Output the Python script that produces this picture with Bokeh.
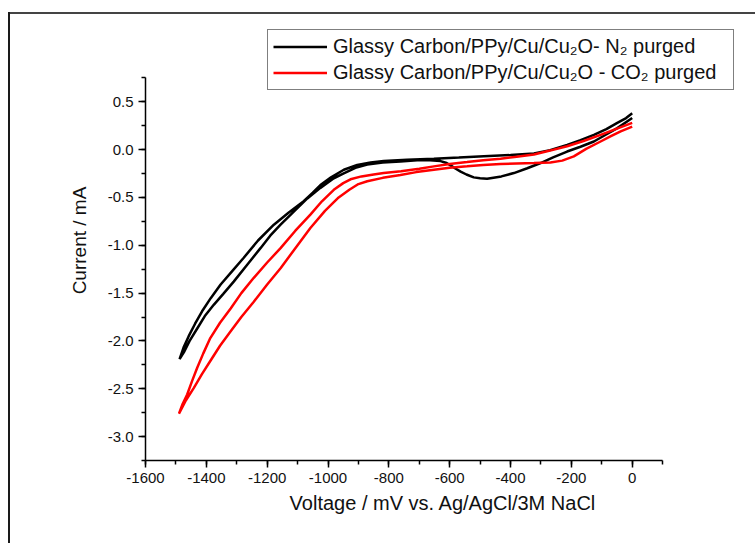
from bokeh.plotting import figure
from bokeh.models import (Legend, LegendItem, SingleIntervalTicker, NumeralTickFormatter, Title)
from bokeh.embed import file_html
from bokeh.resources import INLINE

# Data (mV, mA)
n2_voltage = [0, -49, -90, -126, -170, -214, -260, -301, -345, -389, -430, -477, -500, -521,
              -545, -564, -580, -592, -610, -630, -665, -707, -762, -820, -871, -910, -950,
              -981, -1025, -1068, -1110, -1156, -1190, -1222, -1265, -1310, -1345, -1375,
              -1405, -1430, -1455, -1474, -1488,
              -1475, -1458, -1437, -1414, -1385, -1353, -1315, -1277, -1230, -1178, -1130,
              -1080, -1050, -1025, -990, -948, -904, -860, -817, -740, -652, -570, -488,
              -400, -323, -270, -214, -170, -126, -85, -49, -20, 0]
n2_current = [0.33, 0.225, 0.15, 0.085, 0.03, -0.02, -0.08, -0.14, -0.195, -0.245, -0.28,
              -0.305, -0.30, -0.29, -0.26, -0.23, -0.20, -0.175, -0.14, -0.12, -0.11, -0.11,
              -0.125, -0.135, -0.155, -0.19, -0.25, -0.30, -0.40, -0.51, -0.64, -0.785, -0.90,
              -1.03, -1.20, -1.38, -1.51, -1.62, -1.74, -1.87, -2.00, -2.12, -2.19,
              -2.07, -1.95, -1.82, -1.69, -1.55, -1.41, -1.27, -1.13, -0.95, -0.785, -0.66,
              -0.54, -0.45, -0.37, -0.29, -0.21, -0.16, -0.135, -0.12, -0.105, -0.095, -0.083,
              -0.07, -0.057, -0.04, -0.005, 0.05, 0.10, 0.155, 0.215, 0.28, 0.33, 0.38]

co2_voltage = [0, -38, -70, -104, -150, -192, -230, -269, -323, -380, -433, -490, -543, -600,
               -652, -710, -762, -820, -871, -900, -930, -965, -1010, -1058, -1105, -1156,
               -1200, -1244, -1285, -1320, -1355, -1387, -1415, -1441, -1467, -1490,
               -1478, -1463, -1447, -1430, -1410, -1387, -1355, -1320, -1285, -1244, -1200,
               -1156, -1108, -1058, -1020, -981, -950, -926, -890, -850, -817, -760, -700,
               -652, -600, -543, -490, -433, -380, -323, -270, -214, -160, -104, -50, 0]
co2_current = [0.24, 0.19, 0.14, 0.085, 0.01, -0.07, -0.115, -0.135, -0.14, -0.145, -0.15,
               -0.16, -0.175, -0.19, -0.21, -0.235, -0.265, -0.295, -0.33, -0.36, -0.42, -0.50,
               -0.64, -0.82, -1.02, -1.24, -1.41, -1.59, -1.75, -1.90, -2.05, -2.21, -2.35,
               -2.49, -2.62, -2.76,
               -2.66, -2.56, -2.42, -2.28, -2.13, -1.97, -1.81, -1.66, -1.50, -1.34, -1.18,
               -1.03, -0.85, -0.68, -0.54, -0.42, -0.35, -0.31, -0.28, -0.26, -0.245, -0.225,
               -0.20, -0.175, -0.15, -0.13, -0.11, -0.095, -0.075, -0.05, -0.01, 0.035, 0.09,
               0.155, 0.22, 0.28]

series_labels = ["Glassy Carbon/PPy/Cu/Cu\u2082O- N\u2082 purged",
                 "Glassy Carbon/PPy/Cu/Cu\u2082O - CO\u2082 purged"]
x_title = "Voltage / mV vs. Ag/AgCl/3M NaCl"
y_title = "Current / mA"
x_axis_bounds = (-1600, 100)
y_axis_bounds = (-3.25, 0.75)

FONT = "Liberation Sans"

# The frame is extended up and to the right so the legend box (which sits outside the
# axes in the original) is not clipped; the axes are limited with `bounds`.
p = figure(width=755, height=543, x_range=(-1600, 356), y_range=(-3.25, 1.35),
           output_backend="svg", toolbar_location=None,
           min_border_left=145, min_border_right=15, min_border_top=20, min_border_bottom=83)
p.outline_line_color = None
p.grid.visible = False
p.background_fill_color = "white"
p.border_fill_color = "white"
p.border_fill_alpha = 0
# thin page frame on the left and top edges, as in the reference screenshot
p.styles = {
    "background": ("linear-gradient(#1a1a1a, #1a1a1a) 8px 12px / 2px 100% no-repeat, "
                   "linear-gradient(#444444, #444444) 8px 12px / 100% 2px no-repeat, white"),
}

r1 = p.line(n2_voltage, n2_current, line_color="black", line_width=2.5)
r2 = p.line(co2_voltage, co2_current, line_color="#ff0000", line_width=2.5)

p.xaxis.ticker = SingleIntervalTicker(interval=200, num_minor_ticks=2)
p.yaxis.ticker = SingleIntervalTicker(interval=0.5, num_minor_ticks=2)
p.xaxis.formatter = NumeralTickFormatter(format="0")
p.yaxis.formatter = NumeralTickFormatter(format="0.0")
p.xaxis.bounds = x_axis_bounds
p.yaxis.bounds = y_axis_bounds

for ax in (p.xaxis, p.yaxis):
    ax.axis_line_width = 1.5
    ax.axis_line_color = "black"
    ax.major_tick_line_color = "black"
    ax.minor_tick_line_color = "black"
    ax.major_tick_line_width = 1.5
    ax.minor_tick_line_width = 1.5
    ax.major_tick_out = 7
    ax.major_tick_in = 0
    ax.minor_tick_out = 4
    ax.minor_tick_in = 0
    ax.major_label_text_font = FONT
    ax.major_label_text_font_size = "15px"
    ax.major_label_text_color = "#111111"
    ax.axis_label_text_font = FONT
    ax.axis_label_text_font_size = "19px"
    ax.axis_label_text_font_style = "normal"
    ax.axis_label_text_color = "#111111"
    ax.major_label_standoff = 5

p.yaxis.axis_label = y_title
p.yaxis.axis_label_standoff = 15

# x-axis title: centred under the axis line (not under the widened frame)
x_title_obj = Title(text=x_title, align="center", offset=-39.5, standoff=8,
                    text_font=FONT, text_font_size="20px", text_font_style="normal",
                    text_color="#111111")
p.add_layout(x_title_obj, "below")

legend = Legend(items=[LegendItem(label=series_labels[0], renderers=[r1]),
                       LegendItem(label=series_labels[1], renderers=[r2])],
                location=(122, 370))
legend.label_text_font = FONT
legend.label_text_font_size = "20px"
legend.label_text_color = "#111111"
legend.glyph_width = 54
legend.glyph_height = 21
legend.label_height = 21
legend.label_width = 395
legend.label_standoff = 6
legend.spacing = 3
legend.padding = 5
legend.margin = 0
legend.border_line_color = "black"
legend.border_line_width = 1
legend.background_fill_color = "white"
legend.background_fill_alpha = 1
p.add_layout(legend)

open("out.html", "w").write(file_html(p, INLINE))
